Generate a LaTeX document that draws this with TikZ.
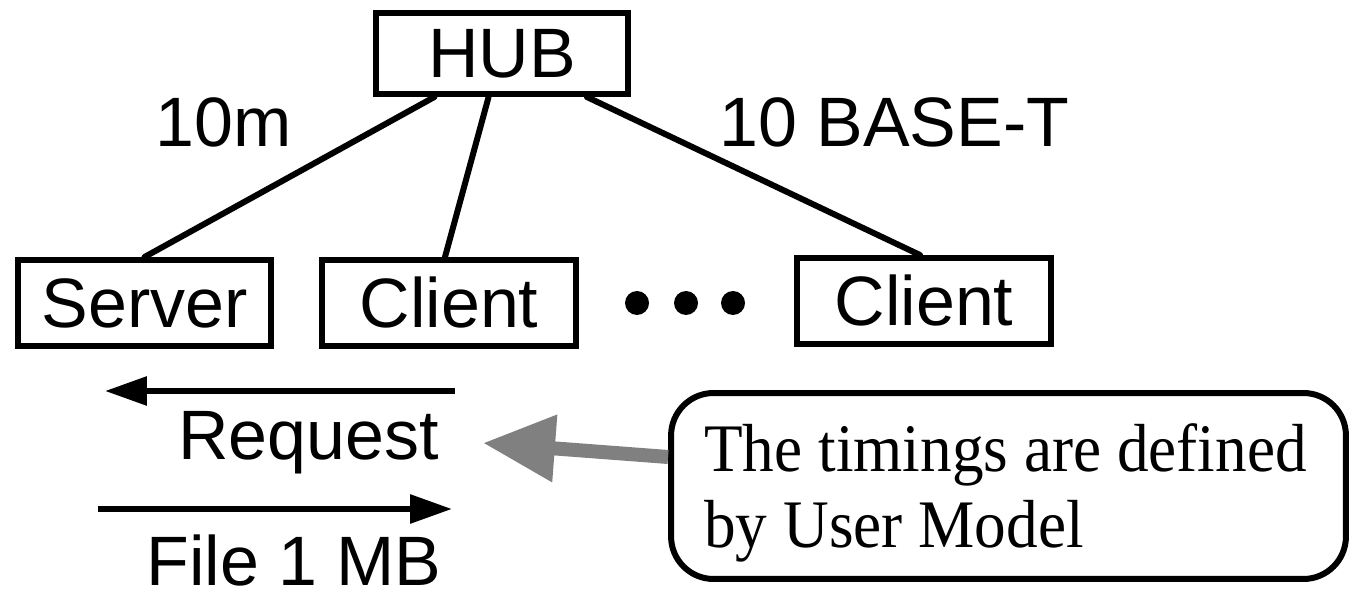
\documentclass[tikz,border=0pt]{standalone}
\usepackage{fontspec}
\usetikzlibrary{arrows.meta,calc}
\newfontfamily\labelsans{Liberation Sans}
\newfontfamily\noteserif[FakeStretch=0.93]{Liberation Serif}
\tikzset{
  px/.style={x=0.02cm,y=-0.02cm},
  thick line/.style={line width=0.12cm},
  netbox/.style={draw,thick line,inner sep=0pt,minimum width=5.08cm,minimum height=1.72cm,
    font=\labelsans\fontsize{39.8}{44}\selectfont},
  plainlabel/.style={inner sep=0pt,font=\labelsans\fontsize{39.8}{44}\selectfont},
  link/.style={thick line,line cap=round},
  flow/.style={thick line,-{Triangle[length=0.84cm,width=0.56cm]}},
  dotmark/.style={circle,fill,inner sep=0pt,minimum size=0.48cm},
  notebox/.style={draw,thick line,rounded corners=0.85cm,minimum width=13.5cm,minimum height=3.72cm,inner sep=0pt},
  notetext/.style={inner sep=0pt,align=left,font=\noteserif\fontsize{38.7}{43.2}\selectfont},
  pointer/.style={line width=0.28cm,draw={rgb,255:red,128;green,128;blue,128},
    -{Triangle[length=1.44cm,width=1.28cm]}}
}
\begin{document}
\begin{tikzpicture}[px]
\useasboundingbox (0,0) rectangle (1351,590);

% network: hub and stations
\node[netbox,minimum width=5.04cm,minimum height=1.62cm] (hub) at (502,53.5) {\raisebox{-2.5pt}{HUB}};
\node[netbox] (server) at (144.5,303) {Server};
\node[netbox] (client1) at (449,303) {Client};
\node[netbox] (client2) at (924,301) {Client};

\node[dotmark] (dot1) at (637,303) {};
\node[dotmark] (dot2) at (686,303) {};
\node[dotmark] (dot3) at (733,303) {};

% cables
\draw[link] ($(hub.south west)!0.238!(hub.south east)$) -- (server.north);
\draw[link] ($(hub.south west)!0.448!(hub.south east)$) -- ($(client1.north)+(-4,0)$);
\draw[link] ($(hub.south west)!0.829!(hub.south east)$) -- ($(client2.north)+(-4,0)$);

\node[plainlabel,anchor=base west] (len) at (155,147) {10m};
\node[plainlabel,anchor=base west] (kind) at (719,147) {10 BASE-T};

% message flow
\coordinate (reqfrom) at (455,391);
\coordinate (reqto) at (105,391);
\draw[flow] (reqfrom) -- (reqto);
\node[plainlabel,anchor=base east] (req) at (439,460) {Request};

\coordinate (filefrom) at (98,509);
\coordinate (fileto) at (452,509);
\draw[flow] (filefrom) -- (fileto);
\node[plainlabel,anchor=base east] (file) at (442,585) {File 1 MB};

% annotation
\node[notebox] (note) at (1008.5,486) {};
\node[notetext,anchor=north west] (notetxt) at (704,423) {The timings are defined\\by User Model};
\coordinate (pointtip) at (483,443);
\draw[pointer] ($(note.west)+(0,-29)$) -- (pointtip);
\end{tikzpicture}
\end{document}
